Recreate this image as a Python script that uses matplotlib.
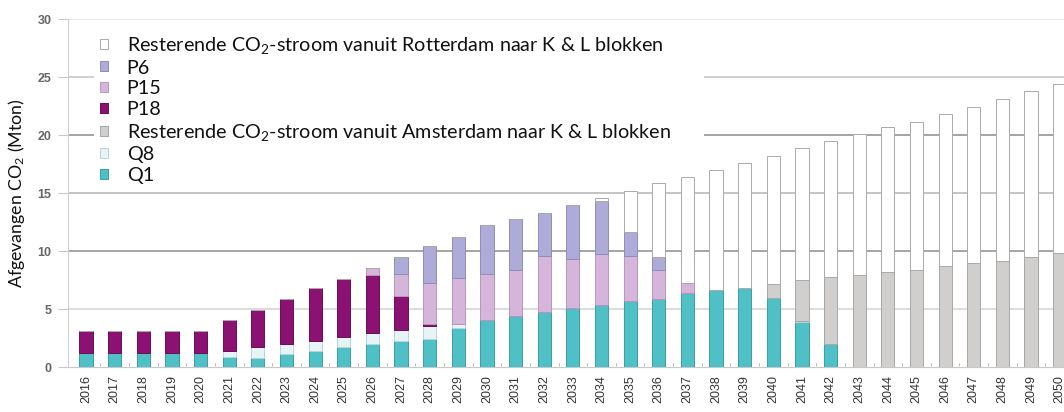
import numpy as np
import matplotlib
matplotlib.use("Agg")
import matplotlib.pyplot as plt
from matplotlib.patches import Patch

plt.rcParams['font.family'] = ['Lato', 'DejaVu Sans']
plt.rcParams['mathtext.default'] = 'regular'

# data (Mton)
years = list(range(2016, 2051))
q1 = [1.2, 1.2, 1.2, 1.2, 1.2, 0.9, 0.8, 1.1, 1.4, 1.7,
      2.0, 2.2, 2.45, 3.4, 4.05, 4.4, 4.7, 5.05, 5.35, 5.7,
      5.9, 6.35, 6.6, 6.85, 5.95, 3.85, 2.0, 0, 0, 0,
      0, 0, 0, 0, 0]
q8 = [0, 0, 0, 0, 0, 0.5, 0.95, 0.85, 0.85, 0.9,
      0.9, 1.0, 1.1, 0.3, 0, 0, 0, 0, 0, 0,
      0, 0, 0, 0, 0, 0.15, 0, 0, 0, 0,
      0, 0, 0, 0, 0]
amsterdam = [0, 0, 0, 0, 0, 0, 0, 0, 0, 0,
             0, 0, 0, 0, 0, 0, 0, 0, 0, 0,
             0, 0, 0, 0, 1.2, 3.5, 5.75, 7.95, 8.2, 8.4,
             8.7, 9.0, 9.15, 9.45, 9.8]
p18 = [1.9, 1.9, 1.9, 1.9, 1.9, 2.65, 3.15, 3.9, 4.55, 4.95,
       5.0, 2.9, 0.2, 0, 0, 0, 0, 0, 0, 0,
       0, 0, 0, 0, 0, 0, 0, 0, 0, 0,
       0, 0, 0, 0, 0]
p15 = [0, 0, 0, 0, 0, 0, 0, 0, 0, 0,
       0.6, 1.95, 3.45, 4.0, 4.0, 4.0, 4.85, 4.3, 4.4, 3.85,
       2.5, 0.9, 0, 0, 0, 0, 0, 0, 0, 0,
       0, 0, 0, 0, 0]
p6 = [0, 0, 0, 0, 0, 0, 0, 0, 0, 0,
      0, 1.4, 3.25, 3.5, 4.15, 4.4, 3.7, 4.6, 4.55, 2.05,
      1.05, 0, 0, 0, 0, 0, 0, 0, 0, 0,
      0, 0, 0, 0, 0]
rotterdam = [0, 0, 0, 0, 0, 0, 0, 0, 0, 0,
             0, 0, 0, 0, 0, 0, 0, 0, 0.25, 3.6,
             6.4, 9.1, 10.4, 10.7, 11.0, 11.35, 11.75, 12.15, 12.5, 12.75,
             13.1, 13.45, 13.95, 14.35, 14.6]

lbl_rot = 'Resterende CO$_2$-stroom vanuit Rotterdam naar K & L blokken'
lbl_ams = 'Resterende CO$_2$-stroom vanuit Amsterdam naar K & L blokken'

# bottom-up stacking order: (values, label, face, edge)
series = [
    (q1, 'Q1', '#4fc1c6', '#3a9fa4'),
    (q8, 'Q8', '#e6f4f8', '#b9d3da'),
    (amsterdam, lbl_ams, '#d1cfcd', '#a9a7a5'),
    (p18, 'P18', '#8b1272', '#6c0c58'),
    (p15, 'P15', '#d6b5da', '#b996bd'),
    (p6, 'P6', '#aeabd8', '#8f8cbb'),
    (rotterdam, lbl_rot, '#ffffff', '#aaaaaa'),
]

fig = plt.figure(figsize=(10.64, 4.12), dpi=100)
ax = fig.add_axes([68 / 1064, 45 / 412, 1 - 68 / 1064, 348 / 412])

x = np.arange(len(years))
bottom = np.zeros(len(years))
for vals, lab, fc, ec in series:
    v = np.array(vals, dtype=float)
    ax.bar(x, v, 0.46, bottom=bottom, color=fc, edgecolor=ec,
           linewidth=0.7, zorder=3)
    bottom += v

ax.set_xlim(-0.63, 34.15)
ax.set_ylim(0, 30)
ax.set_yticks(range(0, 31, 5))
ax.yaxis.grid(True, zorder=0)
grid_cols = ['#ffffff', '#d2d2d2', '#8c8c8c', '#b4b4b4', '#8c8c8c', '#c4c4c4', '#e2e2e2']
for gl, c in zip(ax.get_ygridlines(), grid_cols):
    gl.set_color(c)
    gl.set_linewidth(1.1)

ax.set_xticks(x)
ax.set_xticklabels([str(y) for y in years], rotation=90, fontsize=9,
                   color='#333333', family='Liberation Sans')
ax.set_xticks(x[:-1] + 0.5, minor=True)
ax.tick_params(axis='x', which='major', length=0, pad=6)
ax.tick_params(axis='x', which='minor', length=3, color='#aaaaaa', direction='in')
ax.tick_params(axis='y', length=7, color='#c8c8c8', labelsize=9,
               labelcolor='#666666', pad=5)
for t in ax.get_yticklabels():
    t.set_family('Liberation Sans')
    t.set_fontweight('bold')

for s in ['top', 'right']:
    ax.spines[s].set_visible(False)
ax.spines['left'].set_color('#d0d0d0')
ax.spines['bottom'].set_color('#c8c8c8')

ax.set_ylabel('Afgevangen CO$_2$ (Mton)', fontsize=12.8, color='#111111')
ax.yaxis.set_label_coords(-0.041, 0.5)

handles = [Patch(facecolor=fc, edgecolor=ec, linewidth=0.7, label=lab)
           for vals, lab, fc, ec in series[::-1]]
leg = ax.legend(handles=handles, loc='upper left',
                bbox_to_anchor=(94 / 1064, 0.5, 610 / 1064, 0.43),
                bbox_transform=fig.transFigure,
                mode='expand', frameon=True, fancybox=False,
                facecolor='white', edgecolor='none', framealpha=1,
                fontsize=14.2, handlelength=0.4, handleheight=0.4,
                handletextpad=0.96, labelspacing=0.19, borderpad=0.3,
                borderaxespad=0)
leg.set_zorder(2.5)
for t in leg.get_texts():
    t.set_color('#111111')

fig.savefig('out.png', dpi=100)
